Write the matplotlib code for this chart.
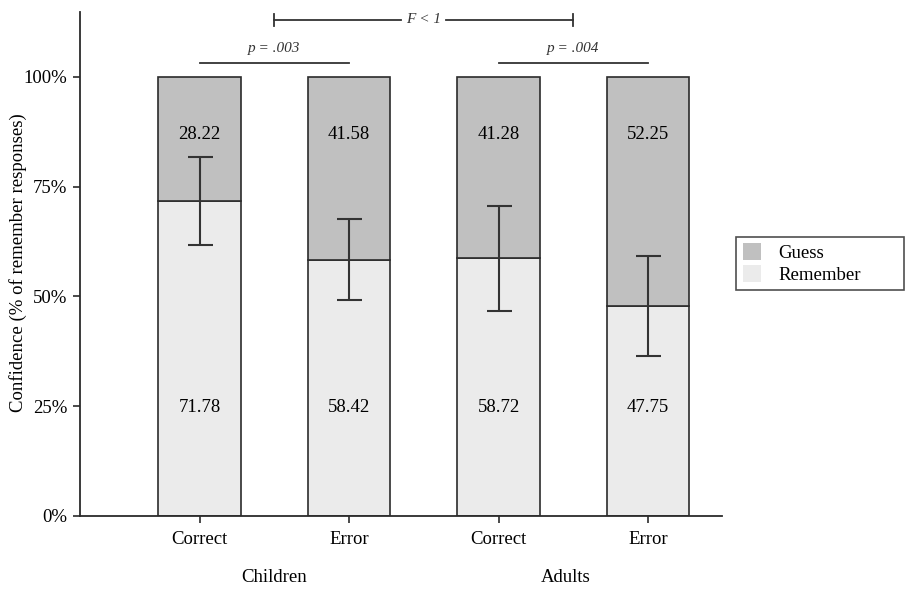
import matplotlib
matplotlib.use("Agg")
import matplotlib.pyplot as plt
from matplotlib.patches import Patch
import numpy as np

# ---- data ----
conditions = ["Correct", "Error", "Correct", "Error"]
groups = ["Children", "Adults"]
remember = [71.78, 58.42, 58.72, 47.75]
guess = [28.22, 41.58, 41.28, 52.25]
remember_err = [10.1, 9.3, 12.0, 11.4]
yticks = [0, 25, 50, 75, 100]
ytick_labels = ["0%", "25%", "50%", "75%", "100%"]

plt.rcParams["font.family"] = ["Liberation Serif", "DejaVu Serif"]

GUESS_C = "#c0c0c0"
REMEMBER_C = "#ebebeb"
EDGE = "#2b2b2b"

fig = plt.figure(figsize=(9.14, 5.95), dpi=100)
W, H = 914, 595
ax = fig.add_axes([80 / W, (H - 516) / H, (722 - 80) / W, (516 - 12) / H])

x = np.arange(len(conditions))
width = 0.55
ax.bar(x, remember, width, color=REMEMBER_C, edgecolor=EDGE, linewidth=1.2, zorder=2)
ax.bar(x, guess, width, bottom=remember, color=GUESS_C, edgecolor=EDGE, linewidth=1.2, zorder=2)
ax.errorbar(x, remember, yerr=remember_err, fmt="none", ecolor="#333333",
            elinewidth=1.5, capsize=9, capthick=1.5, zorder=3)

for xi, g, r in zip(x, guess, remember):
    ax.text(xi, 87, f"{g:.2f}", ha="center", va="center", fontsize=13.5, zorder=4)
    ax.text(xi, 24.8, f"{r:.2f}", ha="center", va="center", fontsize=13.5, zorder=4)

ax.set_xlim(-0.80, 3.495)
ax.set_ylim(0, 114.8)
ax.set_xticks(x)
ax.set_xticklabels(conditions, fontsize=13.5)
ax.set_yticks(yticks)
ax.set_yticklabels(ytick_labels, fontsize=13.5)
ax.tick_params(axis="both", direction="out", length=5, width=1.2, color=EDGE, pad=4)
ax.tick_params(axis="x", pad=6)
for s in ["top", "right"]:
    ax.spines[s].set_visible(False)
for s in ["left", "bottom"]:
    ax.spines[s].set_linewidth(1.3)
    ax.spines[s].set_color(EDGE)

fig.text(18 / W, 1 - 262.5 / H, "Confidence (% of remember responses)", rotation=90,
         ha="center", va="center", fontsize=13.5)

# group labels
ax.text(0.5, -14, groups[0], ha="center", va="center", fontsize=13.5, clip_on=False)
ax.text(2.45, -14, groups[1], ha="center", va="center", fontsize=13.5, clip_on=False)

# significance annotations
ax.plot([0, 1], [103.1, 103.1], color="#333333", lw=1.3, clip_on=False)
ax.text(0.5, 106.5, "p = .003", style="italic", ha="center", va="center", fontsize=11, color="#333333")
ax.plot([2, 3], [103.1, 103.1], color="#333333", lw=1.3, clip_on=False)
ax.text(2.5, 106.5, "p = .004", style="italic", ha="center", va="center", fontsize=11, color="#333333")

yF = 113.0
ax.plot([0.5, 1.35], [yF, yF], color="#333333", lw=1.3, clip_on=False)
ax.plot([1.65, 2.5], [yF, yF], color="#333333", lw=1.3, clip_on=False)
ax.plot([0.5, 0.5], [yF - 1.3, yF + 1.3], color="#333333", lw=1.3, clip_on=False)
ax.plot([2.5, 2.5], [yF - 1.3, yF + 1.3], color="#333333", lw=1.3, clip_on=False)
ax.text(1.5, yF, "F < 1", style="italic", ha="center", va="center", fontsize=11, color="#333333")

# legend
handles = [Patch(facecolor=GUESS_C, edgecolor="none", label="Guess"),
           Patch(facecolor=REMEMBER_C, edgecolor="none", label="Remember")]
leg = fig.legend(handles=handles, loc="center left", mode="expand",
                 bbox_to_anchor=(736 / W, 1 - 289 / H, 168 / W, 51 / H), fontsize=13.5,
                 frameon=True, fancybox=False, edgecolor="#222222",
                 handlelength=1.0, handleheight=1.0, handletextpad=0.9,
                 borderpad=0.35, labelspacing=0.15, borderaxespad=0)
leg.get_frame().set_linewidth(1.2)

fig.savefig("out.png", dpi=100)
